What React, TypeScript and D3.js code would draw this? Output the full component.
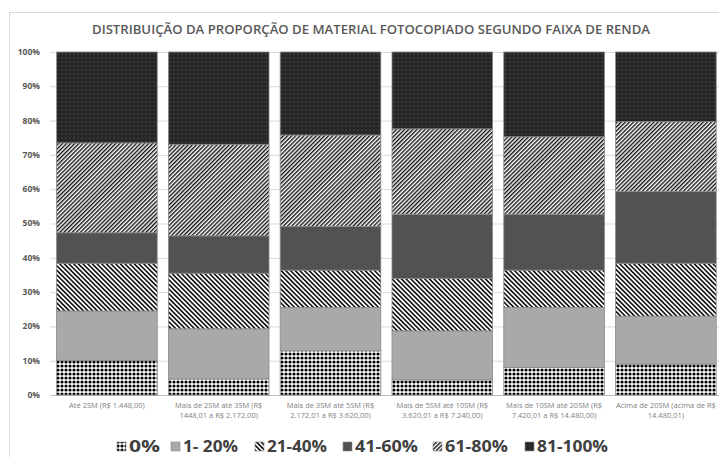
import React from "react";
import * as d3 from "d3";

const categories = ["c1", "c2", "c3", "c4", "c5", "c6"];
const categoryLabels: string[][] = [
  ["Até 2SM (R$ 1.448,00)"],
  ["Mais de 2SM até 3SM (R$", "1448,01 a R$ 2.172,00)"],
  ["Mais de 3SM até 5SM (R$", "2.172,01 a R$ 3.620,00)"],
  ["Mais de 5SM até 10SM (R$", "3.620,01 a R$ 7.240,00)"],
  ["Mais de 10SM até 20SM (R$", "7.420,01 a R$ 14.480,00)"],
  ["Acima de 20SM (acima de R$", "14.480,01)"],
];
const seriesNames = ["0%", "1- 20%", "21-40%", "41-60%", "61-80%", "81-100%"];
const s0 = [10.1, 4.7, 12.9, 4.4, 8.0, 9.0];
const s1 = [14.4, 14.6, 12.6, 14.3, 17.5, 14.0];
const s2 = [13.9, 16.2, 10.9, 15.3, 10.9, 15.4];
const s3 = [8.9, 10.9, 12.7, 18.7, 16.3, 20.9];
const s4 = [26.2, 26.7, 26.7, 24.9, 22.6, 20.4];
const s5 = [26.5, 26.9, 24.2, 22.4, 24.7, 20.3];
const yTicks = [0, 10, 20, 30, 40, 50, 60, 70, 80, 90, 100];
const title = "DISTRIBUIÇÃO DA PROPORÇÃO DE MATERIAL FOTOCOPIADO SEGUNDO FAIXA DE RENDA";

const seriesValues = [s0, s1, s2, s3, s4, s5];
const fills = ["url(#p0)", "#aba9a7", "url(#p21)", "#525252", "url(#p61)", "url(#p81)"];

export default function App() {
  const W = 719, H = 457;
  const rows = categories.map((c, i) => {
    const r: any = { cat: c };
    seriesNames.forEach((s, j) => (r[s] = seriesValues[j][i]));
    return r;
  });
  const stacked = d3.stack<any>().keys(seriesNames)(rows);
  const x = d3.scaleBand<string>().domain(categories).range([51, 721.8]).paddingInner(0.1).paddingOuter(0.05);
  const y = d3.scaleLinear().domain([0, 100]).range([395, 52]);

  const legendW = [31, 55, 60, 63, 63, 71];
  const legendX = [117, 171, 255, 343, 433, 525];

  return (
    <svg width={W} height={H} style={{ position: "absolute", left: 0, top: 0, background: "#fff" }}
      fontFamily="'Open Sans', 'DejaVu Sans', sans-serif">
      <defs>
        <pattern id="p0" width={4} height={4} patternUnits="userSpaceOnUse">
          <rect width={4} height={4} fill="#fff" />
          <circle cx={2} cy={2} r={1.6} fill="#000" />
        </pattern>
        <pattern id="p21" width={3.3} height={3.3} patternUnits="userSpaceOnUse" patternTransform="rotate(-45)">
          <rect width={3.3} height={3.3} fill="#fff" />
          <rect width={1.6} height={3.3} fill="#111" />
        </pattern>
        <pattern id="p61" width={2.9} height={2.9} patternUnits="userSpaceOnUse" patternTransform="rotate(45)">
          <rect width={2.9} height={2.9} fill="#fff" />
          <rect width={1.4} height={2.9} fill="#111" />
        </pattern>
        <pattern id="p81" width={4} height={4} patternUnits="userSpaceOnUse">
          <rect width={4} height={4} fill="#262626" />
          <circle cx={2} cy={2} r={0.8} fill="#4a4a4a" />
        </pattern>
      </defs>
      <rect x={9.5} y={12.5} width={720} height={460} fill="none" stroke="#d9d9d9" />
      <text x={371} y={34} textAnchor="middle" fontSize={13} fontWeight={600} fill="#595959"
        textLength={558} lengthAdjust="spacingAndGlyphs">{title}</text>
      {yTicks.map((t) => (
        <g key={t}>
          <line x1={50} x2={719} y1={y(t) + 0.5} y2={y(t) + 0.5} stroke={t === 0 ? "#bfbfbf" : "#d9d9d9"} />
          <text x={40} y={y(t)} dy="0.35em" textAnchor="end" fontSize={8.5} fontWeight={700} fill="#595959">{t}%</text>
        </g>
      ))}
      {stacked.map((layer, j) => (
        <g key={layer.key}>
          {layer.map((d, i) => (
            <rect key={i} x={x(categories[i])} y={y(d[1])} width={x.bandwidth()} height={y(d[0]) - y(d[1])}
              fill={fills[j]} stroke="#8a8a8a" strokeWidth={0.8} />
          ))}
        </g>
      ))}
      {categoryLabels.map((lines, i) => (
        <text key={i} textAnchor="middle" fontSize={7.5} fill="#7f7f7f">
          {lines.map((l, k) => (
            <tspan key={k} x={(x(categories[i]) as number) + x.bandwidth() / 2} y={408 + k * 10}>{l}</tspan>
          ))}
        </text>
      ))}
      {seriesNames.map((s, j) => (
        <g key={s}>
          <rect x={legendX[j]} y={442} width={9} height={9} fill={fills[j]} stroke="#8a8a8a" strokeWidth={0.6} />
          <text x={legendX[j] + 12} y={452} fontSize={15.5} fontWeight={700} fill="#404040"
            textLength={legendW[j]} lengthAdjust="spacingAndGlyphs">{s}</text>
        </g>
      ))}
    </svg>
  );
}
